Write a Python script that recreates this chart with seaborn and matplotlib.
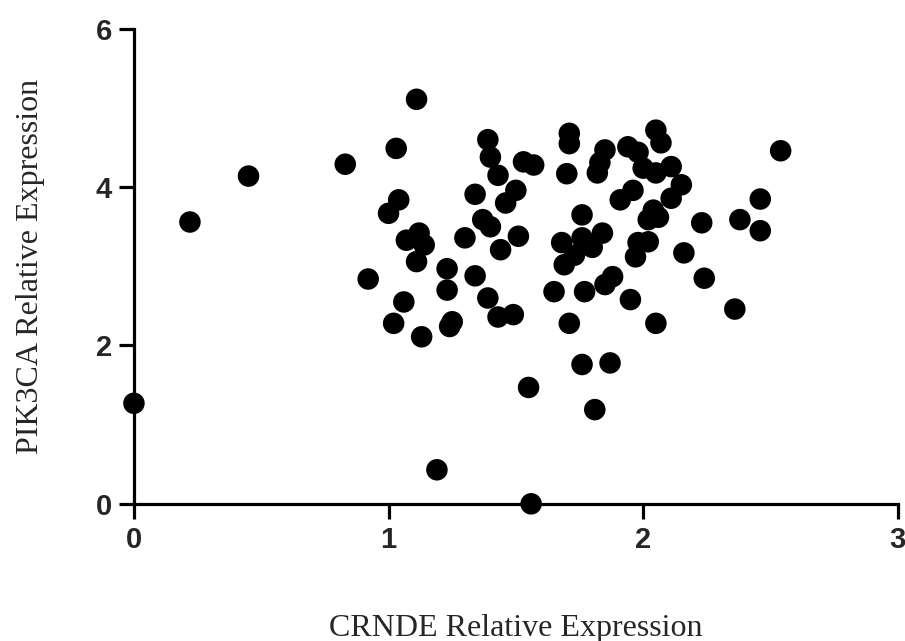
import matplotlib
matplotlib.use('Agg')
import matplotlib.pyplot as plt
import seaborn as sns
import pandas as pd

# CRNDE vs PIK3CA relative expression
crnde = [0.00, 0.22, 0.45, 0.83, 0.92, 1.11, 1.03, 1.04, 1.00, 1.07,
         1.12, 1.14, 1.11, 1.06, 1.02, 1.13, 1.19, 1.23, 1.23, 1.24,
         1.25, 1.30, 1.34, 1.34, 1.39, 1.40, 1.43, 1.37, 1.40, 1.39,
         1.43, 1.49, 1.44, 1.51, 1.46, 1.50, 1.53, 1.57, 1.55, 1.56,
         1.65, 1.69, 1.68, 1.71, 1.71, 1.71, 1.70, 1.73, 1.76, 1.76,
         1.77, 1.76, 1.81, 1.84, 1.80, 1.82, 1.83, 1.85, 1.87, 1.85,
         1.88, 1.91, 1.96, 1.94, 1.98, 1.95, 1.97, 1.98, 2.02, 2.00,
         2.05, 2.05, 2.07, 2.02, 2.06, 2.04, 2.05, 2.11, 2.11, 2.15,
         2.16, 2.23, 2.24, 2.36, 2.38, 2.46, 2.46, 2.54]
pik3ca = [1.27, 3.56, 4.14, 4.29, 2.84, 5.11, 4.49, 3.84, 3.67, 3.33,
          3.42, 3.27, 3.06, 2.55, 2.28, 2.11, 0.43, 2.97, 2.70, 2.24,
          2.30, 3.36, 3.91, 2.88, 4.60, 4.38, 4.15, 3.59, 3.50, 2.60,
          2.36, 2.39, 3.21, 3.38, 3.80, 3.96, 4.32, 4.28, 1.47, 0.00,
          2.68, 3.02, 3.30, 2.28, 4.68, 4.55, 4.17, 3.14, 3.36, 3.65,
          2.68, 1.76, 1.19, 3.42, 3.24, 4.18, 4.31, 4.47, 1.78, 2.77,
          2.87, 3.84, 3.96, 4.51, 4.44, 2.58, 3.12, 3.30, 3.31, 4.24,
          4.18, 4.72, 4.56, 3.59, 3.62, 3.71, 2.28, 4.26, 3.86, 4.03,
          3.17, 3.55, 2.85, 2.46, 3.59, 3.45, 3.85, 4.46]

df = pd.DataFrame({'CRNDE': crnde, 'PIK3CA': pik3ca})

sns.set_style('ticks')
fig = plt.figure(figsize=(9.05, 6.41), dpi=100)
ax = fig.add_axes([0.148, 0.214, 0.844, 0.741])

sns.scatterplot(data=df, x='CRNDE', y='PIK3CA', color='black', s=240,
                edgecolor='none', linewidth=0, clip_on=False, ax=ax, zorder=3)

ax.set_xlim(0, 3)
ax.set_ylim(0, 6)
ax.set_xticks([0, 1, 2, 3])
ax.set_yticks([0, 2, 4, 6])

sns.despine(ax=ax)
for side in ['left', 'bottom']:
    ax.spines[side].set_linewidth(2.3)
    ax.spines[side].set_color('black')

ax.tick_params(axis='both', width=2.3, length=11, color='black', pad=5)
for lbl in ax.get_xticklabels() + ax.get_yticklabels():
    lbl.set_fontfamily('Liberation Sans')
    lbl.set_fontweight('bold')
    lbl.set_fontsize(21)

ax.set_xlabel('CRNDE Relative Expression', fontfamily='Liberation Serif',
              fontsize=23, labelpad=43)
ax.set_ylabel('PIK3CA Relative Expression', fontfamily='Liberation Serif',
              fontsize=23, labelpad=36)

plt.savefig('out.png', dpi=100)
